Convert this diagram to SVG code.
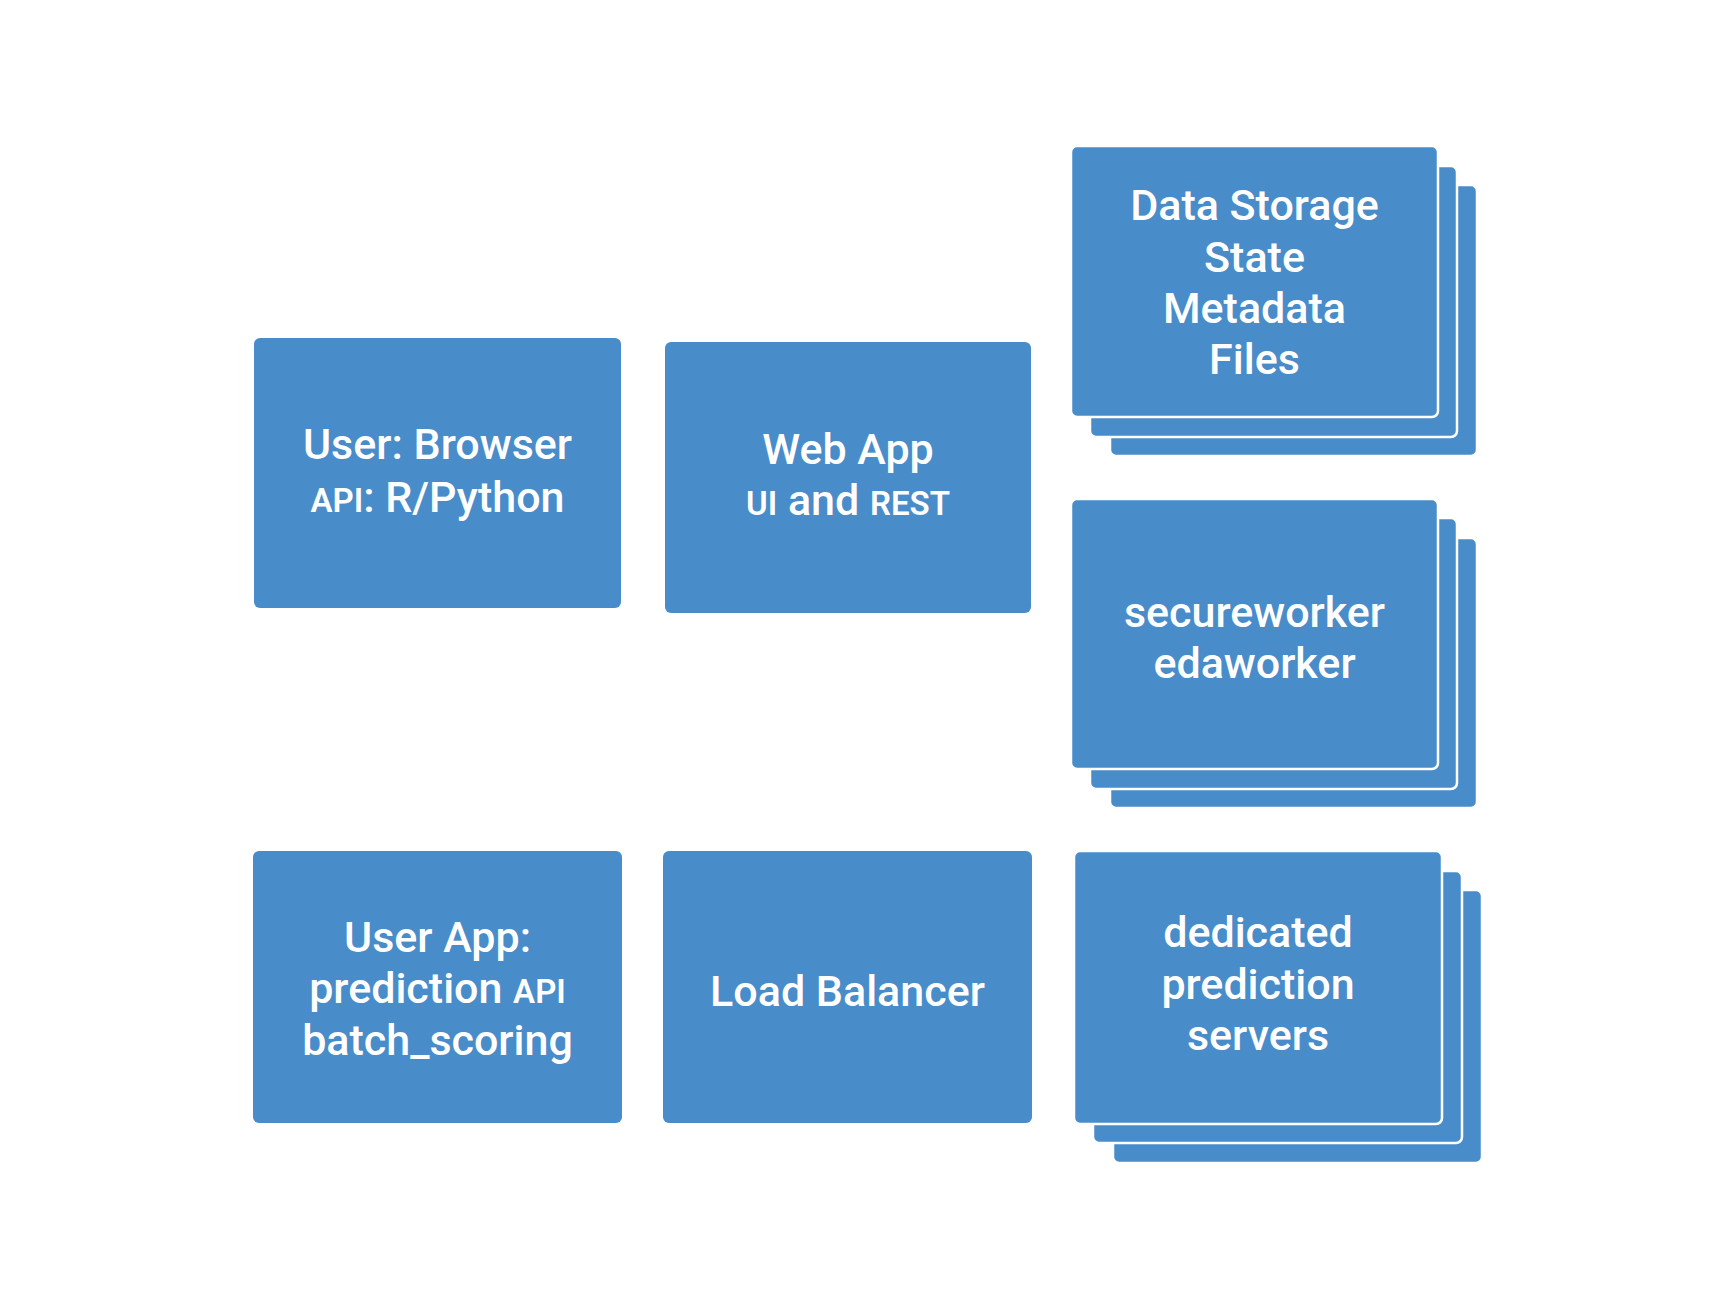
<svg xmlns="http://www.w3.org/2000/svg" width="1735" height="1308" viewBox="0 0 1735 1308">
<style>
.box{fill:#498cca;}
.st{fill:#498cca;stroke:#ffffff;stroke-width:2.5;}
.t{font-family:Roboto,"Liberation Sans",sans-serif;font-size:43px;font-weight:500;fill:#ffffff;text-anchor:middle;}
.sc{font-size:33px;font-weight:600;}
</style>
<rect width="1735" height="1308" fill="#ffffff"/>
<g id="user-browser">
<rect class="box" x="254" y="338" width="367" height="270" rx="6"/>
<text class="t" x="437.5" y="459">User: Browser</text>
<text class="t" x="437.5" y="512"><tspan class="sc">API</tspan>: R/Python</text>
</g>
<g id="web-app">
<rect class="box" x="665" y="342" width="366" height="271" rx="6"/>
<text class="t" x="848" y="464">Web App</text>
<text class="t" x="848" y="515"><tspan class="sc">UI</tspan> and <tspan class="sc">REST</tspan></text>
</g>
<g id="data-storage">
<rect class="st" x="1110" y="185" width="367" height="271" rx="6"/>
<rect class="st" x="1090" y="166" width="367" height="271" rx="6"/>
<rect class="st" x="1071" y="146" width="367" height="271" rx="6"/>
<text class="t" x="1254.5" y="220">Data Storage</text>
<text class="t" x="1254.5" y="272">State</text>
<text class="t" x="1254.5" y="323">Metadata</text>
<text class="t" x="1254.5" y="374">Files</text>
</g>
<g id="workers">
<rect class="st" x="1110" y="538" width="367" height="270" rx="6"/>
<rect class="st" x="1090" y="518" width="367" height="271" rx="6"/>
<rect class="st" x="1071" y="499" width="367" height="270" rx="6"/>
<text class="t" x="1254.5" y="627">secureworker</text>
<text class="t" x="1254.5" y="678">edaworker</text>
</g>
<g id="user-app">
<rect class="box" x="253" y="851" width="369" height="272" rx="6"/>
<text class="t" x="437.5" y="952">User App:</text>
<text class="t" x="437.5" y="1003">prediction <tspan class="sc">API</tspan></text>
<text class="t" x="437.5" y="1055">batch_scoring</text>
</g>
<g id="load-balancer">
<rect class="box" x="663" y="851" width="369" height="272" rx="6"/>
<text class="t" x="847.5" y="1006">Load Balancer</text>
</g>
<g id="prediction-servers">
<rect class="st" x="1113" y="890" width="369" height="273" rx="6"/>
<rect class="st" x="1093" y="871" width="369" height="272" rx="6"/>
<rect class="st" x="1074" y="851" width="368" height="273" rx="6"/>
<text class="t" x="1258" y="947">dedicated</text>
<text class="t" x="1258" y="999">prediction</text>
<text class="t" x="1258" y="1050">servers</text>
</g>
<g id="connectors"></g>
</svg>
